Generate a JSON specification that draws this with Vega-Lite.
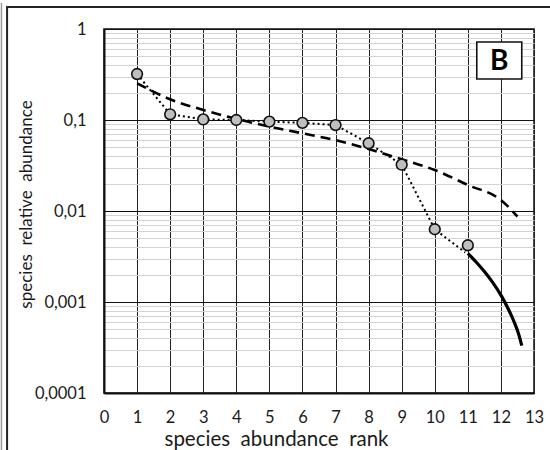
{
  "$schema": "https://vega.github.io/schema/vega-lite/v6.json",
  "autosize": {"type": "none"},
  "padding": {"left": 104, "top": 29, "right": 16, "bottom": 57},
  "width": 430,
  "height": 364,
  "background": "white",
  "config": {
    "font": "Lato",
    "view": {"stroke": "#111", "strokeWidth": 1.5},
    "axis": {"labelFont": "Lato", "titleFont": "Lato", "labelColor": "#1a1a1a", "titleColor": "#1a1a1a", "titleFontWeight": "normal"}
  },
  "datasets": {
    "obs": [
      {"x": 1, "y": 0.32},
      {"x": 2, "y": 0.1155},
      {"x": 3, "y": 0.1015},
      {"x": 4, "y": 0.1},
      {"x": 5, "y": 0.096},
      {"x": 6, "y": 0.093},
      {"x": 7, "y": 0.088},
      {"x": 8, "y": 0.0555},
      {"x": 9, "y": 0.0323},
      {"x": 10, "y": 0.0063},
      {"x": 11, "y": 0.0042}
    ],
    "dotted": [
      {"x": 1, "y": 0.32},
      {"x": 2, "y": 0.1155},
      {"x": 3, "y": 0.1015},
      {"x": 4, "y": 0.1},
      {"x": 5, "y": 0.096},
      {"x": 6, "y": 0.093},
      {"x": 7, "y": 0.088},
      {"x": 8, "y": 0.0555},
      {"x": 9, "y": 0.0323},
      {"x": 10, "y": 0.0063},
      {"x": 10.92, "y": 0.0035}
    ],
    "dashed": [
      {"x": 1, "y": 0.253},
      {"x": 2, "y": 0.169},
      {"x": 3, "y": 0.129},
      {"x": 4, "y": 0.103},
      {"x": 5, "y": 0.0845},
      {"x": 6, "y": 0.0714},
      {"x": 7, "y": 0.06},
      {"x": 8, "y": 0.048},
      {"x": 9, "y": 0.037},
      {"x": 10, "y": 0.0282},
      {"x": 11, "y": 0.0193},
      {"x": 12, "y": 0.0132},
      {"x": 12.5, "y": 0.0087}
    ],
    "solid": [
      {"x": 11.0, "y": 0.003428},
      {"x": 11.25, "y": 0.002754},
      {"x": 11.5, "y": 0.002163},
      {"x": 11.75, "y": 0.00164},
      {"x": 12.0, "y": 0.001189},
      {"x": 12.2, "y": 0.000871},
      {"x": 12.4, "y": 0.000603},
      {"x": 12.55, "y": 0.000427},
      {"x": 12.63, "y": 0.000331}
    ],
    "frame": [{"x": -2.93, "x2": 14, "y": 1.745, "y2": 0.00001}],
    "edge": [{"x": -3.1, "y": 1.93, "y2": 0.00001}],
    "label": [{"x": 11.27, "x2": 12.63, "y": 0.719, "y2": 0.282, "cx": 11.95, "cy": 0.45, "text": "B"}]
  },
  "encoding": {
    "x": {
      "field": "x", "type": "quantitative",
      "scale": {"domain": [0, 13], "nice": false, "zero": false},
      "axis": {
        "title": "species\u00a0 abundance\u00a0 rank",
        "values": [0,1,2,3,4,5,6,7,8,9,10,11,12,13],
        "ticks": false, "labelFontSize": 16.5, "titleFontSize": 20.5,
        "labelPadding": 16, "titlePadding": 4, "titleX": 172, "titleAnchor": null,
        "domainColor": "#111", "domainWidth": 2,
        "grid": true, "gridColor": "#222", "gridWidth": 1, "gridOpacity": 1,
        "labelFlush": false
      }
    },
    "y": {
      "field": "y", "type": "quantitative",
      "scale": {"type": "log", "domain": [0.0001, 1], "nice": false},
      "axis": {
        "title": "species\u00a0 relative\u00a0 abundance",
        "values": [0.0001,0.0002,0.0003,0.0004,0.0005,0.0006,0.0007,0.0008,0.0009,0.001,0.002,0.003,0.004,0.005,0.006,0.007,0.008,0.009,0.01,0.02,0.03,0.04,0.05,0.06,0.07,0.08,0.09,0.1,0.2,0.3,0.4,0.5,0.6,0.7,0.8,0.9,1],
        "labelExpr": "abs(log(datum.value)/LN10 - round(log(datum.value)/LN10)) < 1e-6 ? replace(format(datum.value, '~g'), '.', ',') : ''",
        "ticks": false, "labelFontSize": 16.5, "titleFontSize": 17,
        "labelPadding": 18, "titleX": -78, "titleY": 175, "titleBaseline": "middle",
        "domainColor": "#111", "domainWidth": 2,
        "grid": true, "gridOpacity": 1,
        "gridColor": {"condition": {"test": "abs(log(datum.value)/LN10 - round(log(datum.value)/LN10)) < 1e-6", "value": "#111"}, "value": "#d4d4d4"},
        "gridWidth": 1,
        "labelFlush": false, "labelOverlap": false
      }
    }
  },
  "layer": [
    {"data": {"name": "dashed"}, "mark": {"type": "line", "color": "#000", "strokeWidth": 2.6, "strokeDash": [10, 6], "interpolate": "monotone"}},
    {"data": {"name": "solid"}, "mark": {"type": "line", "color": "#000", "strokeWidth": 3.2, "interpolate": "monotone"}},
    {"data": {"name": "dotted"}, "mark": {"type": "line", "color": "#000", "strokeWidth": 2, "strokeDash": [2, 3]}},
    {"data": {"name": "obs"}, "mark": {"type": "point", "filled": true, "fill": "#bfbfbf", "stroke": "#111", "strokeWidth": 1.6, "size": 115, "opacity": 1, "fillOpacity": 1}},
    {"data": {"name": "label"}, "mark": {"type": "rect", "fill": "white", "stroke": "#111", "strokeWidth": 1.6}, "encoding": {"x2": {"field": "x2"}, "y2": {"field": "y2"}}},
    {"data": {"name": "label"}, "mark": {"type": "text", "fontSize": 28, "fontWeight": "bold", "color": "#000", "align": "center", "baseline": "middle", "dy": 1}, "encoding": {"x": {"field": "cx", "type": "quantitative"}, "y": {"field": "cy", "type": "quantitative"}, "text": {"field": "text"}}},
    {"data": {"name": "frame"}, "mark": {"type": "rect", "fill": null, "stroke": "#222", "strokeWidth": 2, "clip": false}, "encoding": {"x2": {"field": "x2"}, "y2": {"field": "y2"}}},
    {"data": {"name": "edge"}, "mark": {"type": "rule", "stroke": "#999", "strokeWidth": 1.5, "clip": false}, "encoding": {"y2": {"field": "y2"}}}
  ]
}
